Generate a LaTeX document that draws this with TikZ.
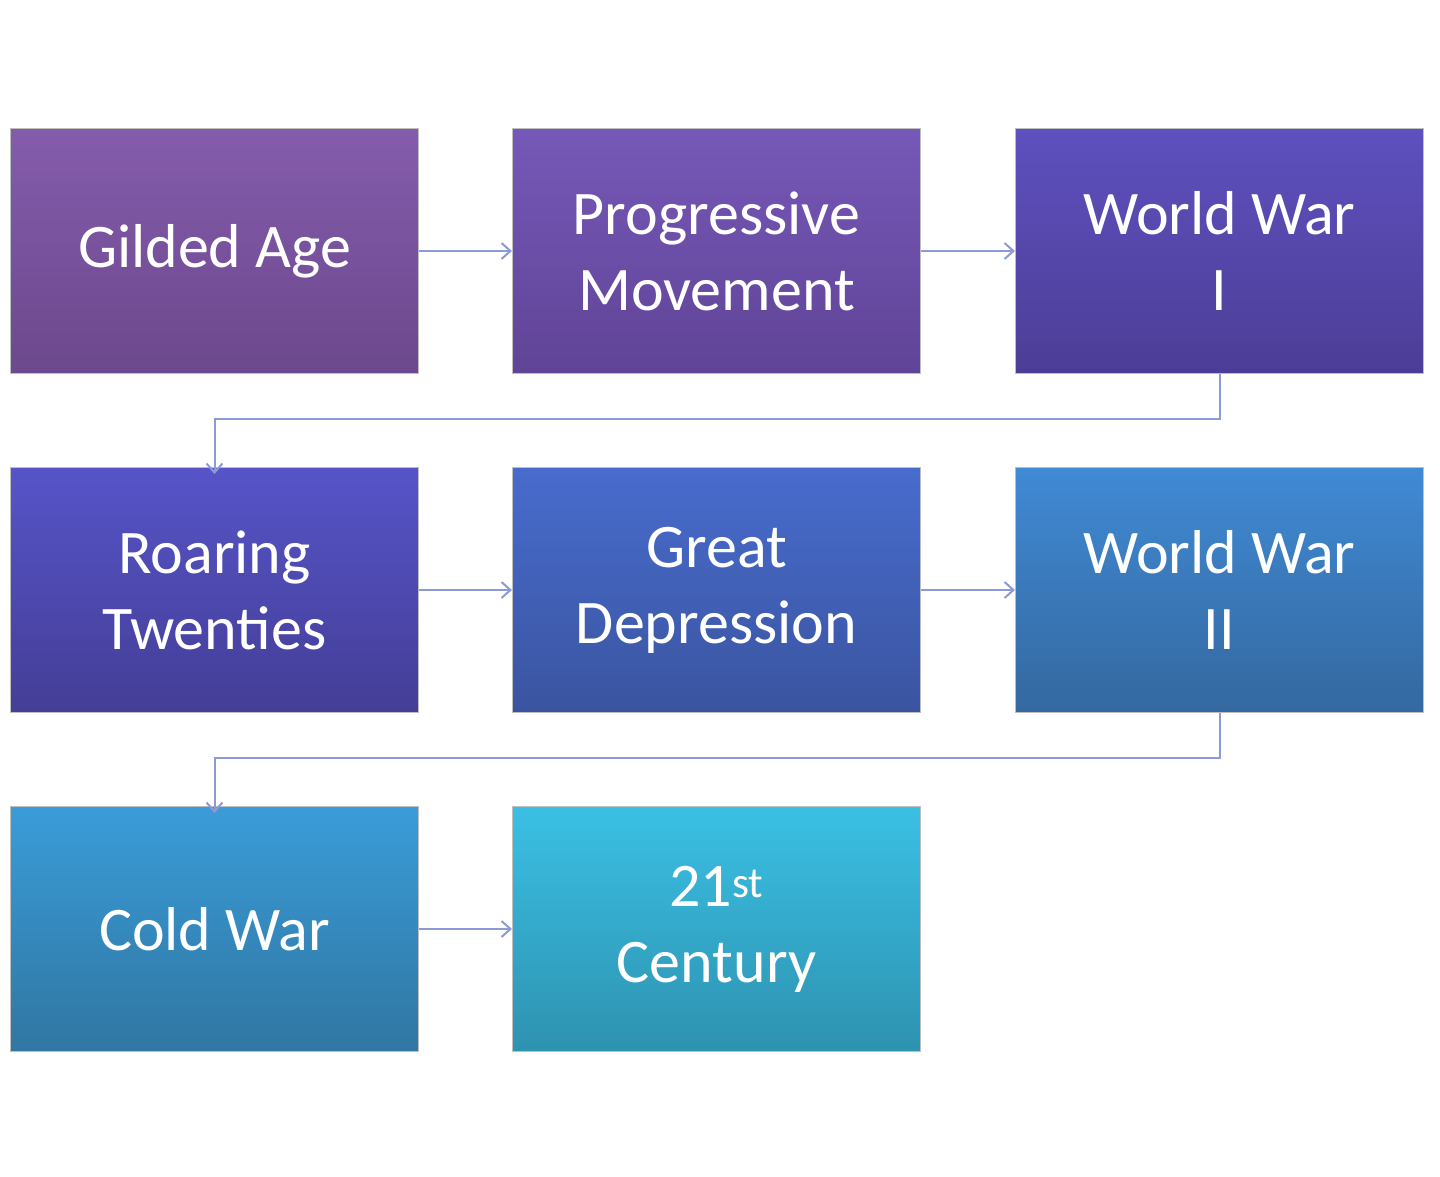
\documentclass[tikz,border=0pt]{standalone}
\usepackage{fontspec}
\setmainfont{Carlito}
\usetikzlibrary{arrows.meta}
\begin{document}
\begin{tikzpicture}[x=1pt,y=-1pt,
  box/.style={minimum width=408pt,minimum height=245pt,anchor=north west,inner sep=0pt,
    text=white,align=center,font=\fontsize{62}{76}\selectfont,draw=black!25,line width=1pt},
  conn/.style={draw={rgb,255:red,140;green,155;blue,215},line width=2pt,-{Straight Barb[length=9pt,width=16pt]}}]
\useasboundingbox (0,0) rectangle (1440,1177);
\def\bx#1#2#3#4#5#6{\node[box,top color=#4,bottom color=#5] (#1) at (#2,#3) {#6};}
\definecolor{a1}{RGB}{132,92,172}\definecolor{a2}{RGB}{108,72,140}
\definecolor{b1}{RGB}{118,88,184}\definecolor{b2}{RGB}{96,68,150}
\definecolor{c1}{RGB}{94,80,190}\definecolor{c2}{RGB}{76,62,150}
\definecolor{d1}{RGB}{86,84,200}\definecolor{d2}{RGB}{68,62,150}
\definecolor{e1}{RGB}{72,108,205}\definecolor{e2}{RGB}{58,84,160}
\definecolor{f1}{RGB}{64,138,212}\definecolor{f2}{RGB}{52,104,160}
\definecolor{g1}{RGB}{58,156,216}\definecolor{g2}{RGB}{48,118,162}
\definecolor{h1}{RGB}{58,192,228}\definecolor{h2}{RGB}{46,146,176}
\bx{n1}{10}{128}{a1}{a2}{Gilded Age}
\bx{n2}{512}{128}{b1}{b2}{Progressive\\Movement}
\bx{n3}{1015}{128}{c1}{c2}{World War\\I}
\bx{n4}{10}{467}{d1}{d2}{Roaring\\Twenties}
\bx{n5}{512}{467}{e1}{e2}{Great\\Depression}
\bx{n6}{1015}{467}{f1}{f2}{World War\\II}
\bx{n7}{10}{806}{g1}{g2}{Cold War}
\bx{n8}{512}{806}{h1}{h2}{21\textsuperscript{st}\\Century}
\draw[conn] (n1) -- (n2);
\draw[conn] (n2) -- (n3);
\draw[conn] (n4) -- (n5);
\draw[conn] (n5) -- (n6);
\draw[conn] (n7) -- (n8);
\draw[conn] (n3.south) -- ++(0,45) -| ([yshift=-7pt]n4.north);
\draw[conn] (n6.south) -- ++(0,45) -| ([yshift=-7pt]n7.north);
\end{tikzpicture}
\end{document}
